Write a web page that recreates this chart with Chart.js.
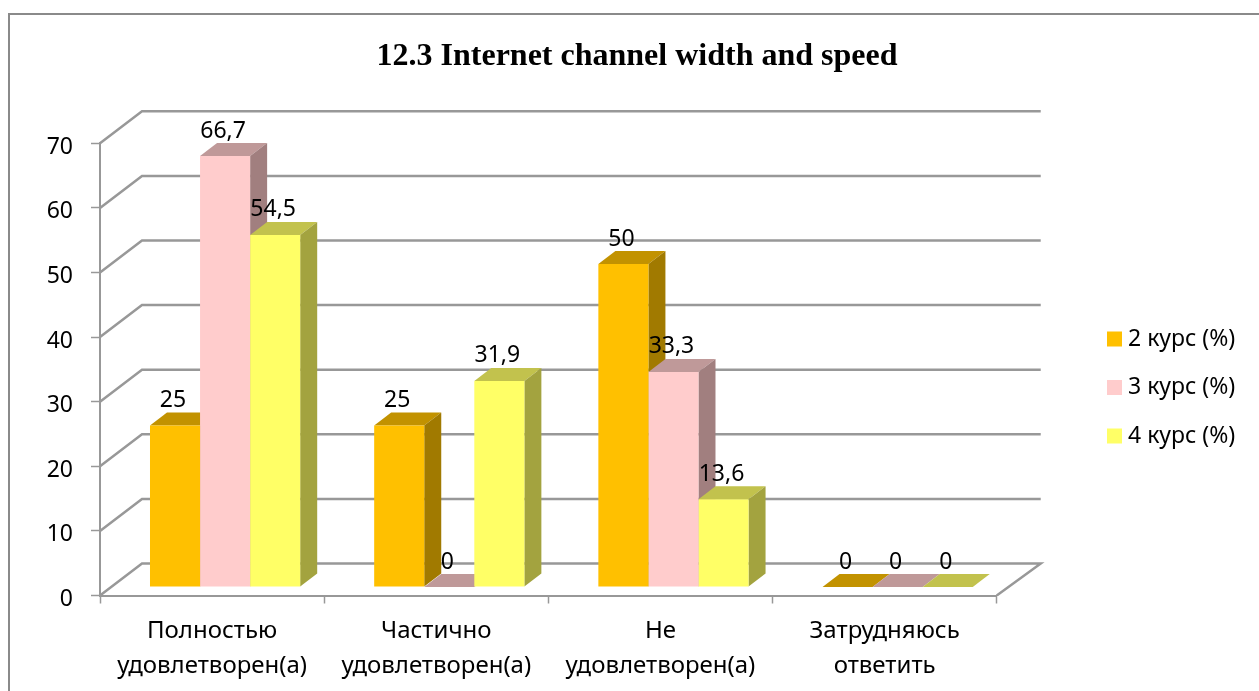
<!DOCTYPE html>
<html>
<head>
<meta charset="utf-8">
<title>12.3 Internet channel width and speed</title>
<script src="https://cdn.jsdelivr.net/npm/chart.js@4"></script>
<style>
    html, body { margin: 0; padding: 0; background: #fff; overflow: hidden; }
    #frame { position: absolute; left: 8px; top: 13px; right: 0; bottom: 0; border-left: 2px solid #8a8a8a; border-top: 2px solid #8a8a8a; }
    #chart { position: absolute; left: 0; top: 0; display: block; }
</style>
</head>
<body>
<div id="frame"></div>
<canvas id="chart" width="1259" height="691"></canvas>
<script>
const categories = [
    ['Полностью', 'удовлетворен(а)'],
    ['Частично', 'удовлетворен(а)'],
    ['Не', 'удовлетворен(а)'],
    ['Затрудняюсь', 'ответить']
];
const course2 = [25, 25, 50, 0];
const course3 = [66.7, 0, 33.3, 0];
const course4 = [54.5, 31.9, 13.6, 0];
const seriesNames = ['2 курс (%)', '3 курс (%)', '4 курс (%)'];

const frontColors = ['#FFC000', '#FFCCCC', '#FFFF66'];
const topColors = ['#C29200', '#BF9999', '#C2C24D'];
const sideColors = ['#A17A00', '#A17F7F', '#A3A33F'];

const FONT = '"Noto Sans", sans-serif';
const GRID = '#989898';

// Excel style 3D look, Chart.js has no such mode so it is painted around the real bars
const wallDx = 42, wallDy = 32;
const barShiftX = 13, barShiftY = 8.5;
const barDx = 17, barDy = 13;

const fake3d = {
    id: 'fake3d',
    afterLayout(chart) {
        // legend sits further right and lower than the layout would put it
        const legend = chart.legend;
        const shift = 1112.5 - legend.options.labels.padding - legend.left;
        legend.left += shift;
        legend.right += shift;
        legend.top += 42;
        legend.bottom += 42;
        // title is centred on the whole picture, not on the padded area
        chart.titleBlock.left = 0;
        chart.titleBlock.right = 1274;
    },
    beforeDatasetsDraw(chart) {
        const ctx = chart.ctx;
        const y = chart.scales.y;
        const left = chart.chartArea.left, right = chart.chartArea.right;
        ctx.save();
        ctx.strokeStyle = GRID;
        ctx.lineWidth = 2.5;
        y.ticks.forEach(t => {
            const py = y.getPixelForValue(t.value);
            ctx.beginPath();
            ctx.moveTo(left, py);
            ctx.lineTo(left + wallDx, py - wallDy);
            ctx.lineTo(right + wallDx + 2, py - wallDy);
            if (t.value === 0) ctx.lineTo(right, py);
            ctx.stroke();
        });
        // top and side faces go first, the library then paints the front faces over them
        ctx.translate(barShiftX, -barShiftY);
        chart.data.datasets.forEach((ds, i) => {
            chart.getDatasetMeta(i).data.forEach(bar => {
                const half = bar.width / 2;
                const l = bar.x - half, r = bar.x + half;
                const t = bar.y, b = bar.base;
                ctx.fillStyle = topColors[i];
                ctx.beginPath();
                ctx.moveTo(l, t);
                ctx.lineTo(l + barDx, t - barDy);
                ctx.lineTo(r + barDx, t - barDy);
                ctx.lineTo(r, t);
                ctx.closePath();
                ctx.fill();
                if (b - t > 0) {
                    ctx.fillStyle = sideColors[i];
                    ctx.beginPath();
                    ctx.moveTo(r, t);
                    ctx.lineTo(r + barDx, t - barDy);
                    ctx.lineTo(r + barDx, b - barDy);
                    ctx.lineTo(r, b);
                    ctx.closePath();
                    ctx.fill();
                }
            });
        });
        ctx.restore();
    },
    beforeDatasetDraw(chart) {
        chart.ctx.save();
        chart.ctx.translate(barShiftX, -barShiftY);
    },
    afterDatasetDraw(chart) {
        chart.ctx.restore();
    },
    afterDatasetsDraw(chart) {
        const ctx = chart.ctx;
        ctx.save();
        ctx.fillStyle = '#000';
        ctx.font = '23px ' + FONT;
        ctx.textAlign = 'center';
        ctx.textBaseline = 'middle';
        chart.data.datasets.forEach((ds, i) => {
            chart.getDatasetMeta(i).data.forEach((bar, k) => {
                const text = String(ds.data[k]).replace('.', ',');
                ctx.fillText(text, bar.x + barShiftX - 2, bar.y - barShiftY - 25);
            });
        });
        ctx.restore();
    }
};

new Chart(document.getElementById('chart'), {
    type: 'bar',
    data: {
        labels: categories,
        datasets: [
            { label: seriesNames[0], data: course2, backgroundColor: frontColors[0] },
            { label: seriesNames[1], data: course3, backgroundColor: frontColors[1] },
            { label: seriesNames[2], data: course4, backgroundColor: frontColors[2] }
        ]
    },
    options: {
        responsive: false,
        animation: false,
        layout: { padding: { right: 104 } },
        datasets: { bar: { categoryPercentage: 0.67, barPercentage: 1, borderWidth: 0 } },
        scales: {
            x: {
                border: { color: GRID, width: 2 },
                grid: { drawOnChartArea: false, color: GRID, tickLength: 8, tickWidth: 1.5 },
                ticks: {
                    maxRotation: 0,
                    autoSkip: false,
                    color: '#000',
                    padding: 10,
                    font: { family: FONT, size: 24, lineHeight: 1.46 }
                },
                afterFit(scale) { scale.height = 95.5; }
            },
            y: {
                min: 0,
                max: 70,
                border: { color: GRID, width: 2 },
                grid: { drawOnChartArea: false, color: GRID, tickLength: 9, tickWidth: 1.5 },
                ticks: {
                    stepSize: 10,
                    color: '#000',
                    padding: 18,
                    labelOffset: 4,
                    font: { family: FONT, size: 23 }
                },
                afterFit(scale) { scale.width = 100; }
            }
        },
        plugins: {
            tooltip: { enabled: false },
            title: {
                display: true,
                text: '12.3 Internet channel width and speed',
                color: '#000',
                font: { family: '"Liberation Serif", serif', size: 32, weight: 'bold', lineHeight: 1.2 },
                padding: { top: 38, bottom: 66.9 }
            },
            legend: {
                position: 'right',
                labels: {
                    boxWidth: 4,
                    boxHeight: 4,
                    padding: 25.5,
                    color: '#000',
                    font: { family: FONT, size: 23 },
                    // thick stroke in the fill colour, keeps the swatch close to its text
                    generateLabels(chart) {
                        return Chart.defaults.plugins.legend.labels.generateLabels(chart).map(item => {
                            item.lineWidth = 11;
                            item.strokeStyle = item.fillStyle;
                            return item;
                        });
                    }
                }
            }
        }
    },
    plugins: [fake3d]
});
</script>
</body>
</html>
